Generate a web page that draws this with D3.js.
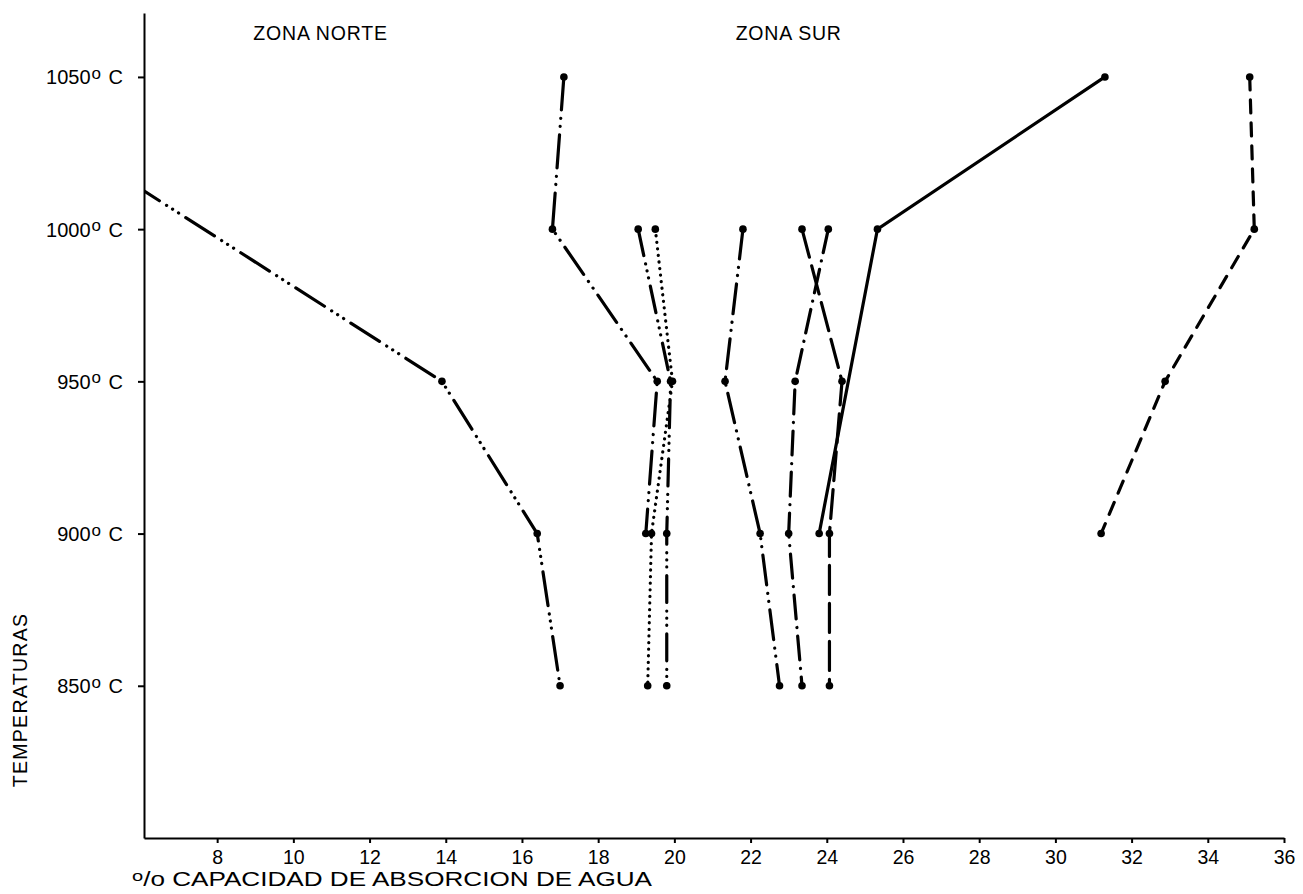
<!DOCTYPE html>
<html>
<head>
<meta charset="utf-8">
<script src="https://cdn.jsdelivr.net/npm/d3@7"></script>
<style>
  body { margin: 0; background: #fff; }
  text { font-family: "Liberation Sans", Arial, sans-serif; fill: #000; }
</style>
</head>
<body>
<div id="chart"></div>
<script>
// temperature of each sample row (y axis)
var temps = [850, 900, 950, 1000, 1050];

// % capacidad de absorcion de agua, one value per temperature (null = not measured)
var serieA = [17.0, 16.4, 13.9, null, 1.4];
var serieB = [null, 19.25, 19.55, 16.8, 17.1];
var serieC = [19.8, 19.8, 19.9, 19.05, null];
var serieD = [19.3, 19.4, 19.95, 19.5, null];
var serieE = [24.07, 24.07, 24.4, 23.35, null];
var serieF = [23.35, 23.0, 23.17, 24.04, null];
var serieG = [null, 23.8, null, 25.33, 31.3];
var serieH = [22.76, 22.25, 21.33, 21.8, null];
var serieI = [null, 31.2, 32.88, 35.22, 35.1];

var xTicks = [8, 10, 12, 14, 16, 18, 20, 22, 24, 26, 28, 30, 32, 34, 36];
var yTicks = [850, 900, 950, 1000, 1050];
var zones = ["ZONA NORTE", "ZONA SUR"];

(function() {
	var width = 1303,
		height = 894;

	var svg = d3.select("#chart")
		.append("svg")
		.attr("width", width)
		.attr("height", height);

	var x = d3.scaleLinear().domain([6.08, 36]).range([144, 1284]);
	var y = d3.scaleLinear().domain([800, 1071]).range([838, 13]);

	// line patterns (round caps, so the dot segments are near zero length)
	var series = [
		{ vals: serieA, dash: "34,8.5,0.1,7,0.1,7,0.1,8.5" },
		{ vals: serieB, dash: "33,8.5,0.1,8,0.1,8.5" },
		{ vals: serieC, dash: "27,8.5,0.1,7,0.1,7,0.1,8.5" },
		{ vals: serieD, dash: "0.1,6.5" },
		{ vals: serieE, dash: "29,9" },
		{ vals: serieF, dash: "24,8.5,0.1,8.5" },
		{ vals: serieG, dash: null },
		{ vals: serieH, dash: "30,8.5,0.1,8,0.1,8.5" },
		{ vals: serieI, dash: "13,10" }
	];

	svg.append("clipPath").attr("id", "plot")
		.append("rect")
		.attr("x", 144).attr("y", 0)
		.attr("width", 1150).attr("height", 838);

	// axes
	var xAxis = svg.append("g")
		.attr("transform", "translate(0," + y(800) + ")")
		.call(d3.axisBottom(x).tickValues(xTicks).tickSize(5).tickSizeOuter(0).tickPadding(7));

	var yAxis = svg.append("g")
		.attr("transform", "translate(" + x(6.08) + ",0)")
		.call(d3.axisLeft(y).tickValues(yTicks).tickSize(6).tickSizeOuter(0).tickPadding(15).tickFormat(""));

	xAxis.selectAll("text").style("font-size", "19.5px").attr("font-family", null);
	svg.selectAll(".domain, .tick line").attr("stroke", "#000").attr("stroke-width", 2);

	// tick labels like "1050° C" with a raised o
	yAxis.selectAll(".tick text").each(function(d) {
		var t = d3.select(this).attr("dy", "0.35em").style("font-size", "20px");
		t.append("tspan").text(d);
		t.append("tspan").attr("dy", "-5.5").attr("dx", 1).style("font-size", "17px").text("o");
		t.append("tspan").attr("dy", "5.5").attr("dx", 2).text(" C");
	});

	// titles
	svg.append("text")
		.attr("transform", "translate(27," + 700 + ") rotate(-90)")
		.attr("text-anchor", "middle")
		.style("font-size", "19.5px")
		.style("letter-spacing", "1.3px")
		.text("TEMPERATURAS");

	var xt = svg.append("text")
		.attr("x", 132).attr("y", 886)
		.style("font-size", "19.5px");
	xt.append("tspan").attr("dy", "-5").style("font-size", "15px").text("o");
	xt.append("tspan").attr("dy", "5").text("/o CAPACIDAD DE ABSORCION DE AGUA");
	xt.attr("textLength", 520).attr("lengthAdjust", "spacingAndGlyphs");

	svg.append("text")
		.attr("x", x(8.95)).attr("y", 40)
		.style("font-size", "19.5px")
		.style("letter-spacing", "0.8px")
		.text(zones[0]);

	svg.append("text")
		.attr("x", x(23.0)).attr("y", 40)
		.attr("text-anchor", "middle")
		.style("font-size", "19.5px")
		.style("letter-spacing", "0.8px")
		.text(zones[1]);

	// lines, drawn from the highest temperature down
	var line = d3.line()
		.x(function(d) { return x(d.v); })
		.y(function(d) { return y(d.t); });

	var plot = svg.append("g").attr("clip-path", "url(#plot)");

	series.forEach(function(s) {
		var pts = temps.map(function(t, i) {
			return { t: t, v: s.vals[i] };
		}).filter(function(d) { return d.v != null; }).reverse();

		plot.append("path")
			.datum(pts)
			.attr("d", line)
			.attr("fill", "none")
			.attr("stroke", "#000")
			.attr("stroke-width", 3.2)
			.attr("stroke-linecap", "round")
			.attr("stroke-dasharray", s.dash);

		plot.selectAll(null)
			.data(pts)
			.enter().append("circle")
			.attr("cx", function(d) { return x(d.v); })
			.attr("cy", function(d) { return y(d.t); })
			.attr("r", 3.8)
			.attr("fill", "#000");
	});
})();
</script>
</body>
</html>
